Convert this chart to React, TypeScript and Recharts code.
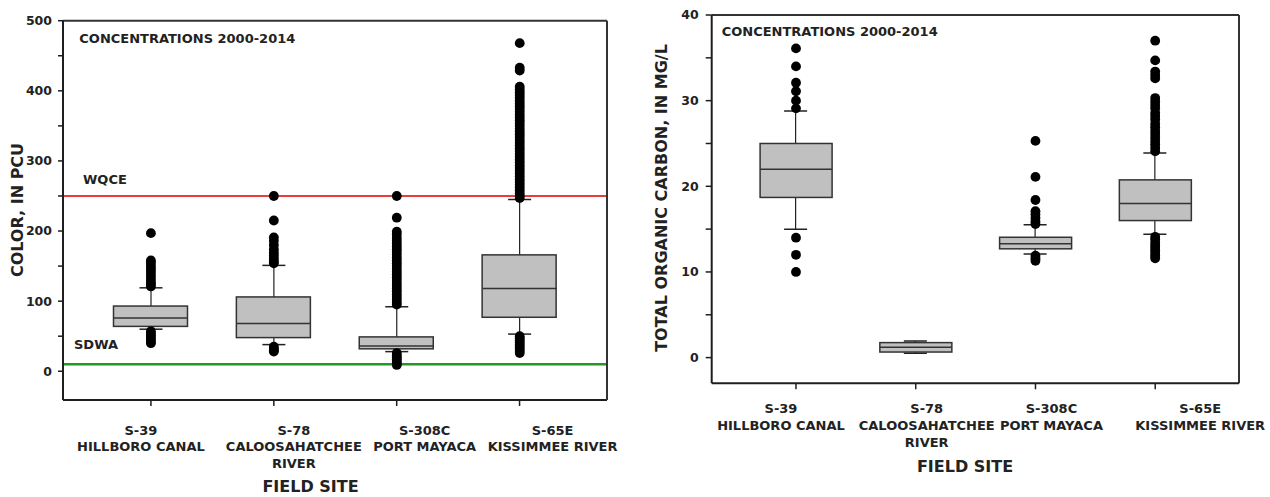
import React from 'react';
import { ComposedChart, Bar, Scatter, XAxis, YAxis, ReferenceLine } from 'recharts';

// ---------- categories ----------
const sites = ['S-39', 'S-78', 'S-308C', 'S-65E'];
const siteLabels = [
  ['S-39', 'HILLBORO CANAL'],
  ['S-78', 'CALOOSAHATCHEE', 'RIVER'],
  ['S-308C', 'PORT MAYACA'],
  ['S-65E', 'KISSIMMEE RIVER'],
];
const sitePositions = [1, 2, 3, 4];

// ---------- COLOR, IN PCU ----------
const colorQ1 = [64, 48, 32, 77];
const colorMedian = [76, 68, 36, 118];
const colorQ3 = [93, 106, 49, 166];
const colorWhiskerLow = [60, 38, 28, 53];
const colorWhiskerHigh = [119, 151, 92, 245];
const colorOutliersS39 = [197, 158, 155, 151, 147, 143, 139, 135, 131, 127, 124, 121, 57, 54, 51, 48, 45, 42, 40];
const colorOutliersS78 = [250, 215, 191, 186, 180, 174, 169, 165, 161, 157, 154, 35, 32, 30, 28];
const colorOutliersS308C = [
  250, 219, 199, 195, 190, 186, 182, 178, 174, 170, 166, 162, 158, 154, 150, 146, 142, 138, 134, 130,
  126, 122, 118, 114, 110, 106, 102, 98, 95, 26, 23, 20, 17, 14, 11, 9,
];
const colorOutliersS65E = [
  468, 433, 429, 406, 402, 398, 394, 390, 386, 382, 378, 374, 370, 366, 362, 358, 354, 350, 346, 342,
  338, 334, 330, 326, 322, 318, 314, 310, 306, 302, 298, 294, 290, 286, 282, 278, 274, 270, 266, 262,
  258, 254, 250, 247, 50, 47, 44, 41, 38, 35, 32, 29, 26,
];
const colorTicks = [0, 50, 100, 150, 200, 250, 300, 350, 400, 450, 500];
const colorDomain = [-41, 500];
const wqceValue = 250;
const sdwaValue = 10;

// ---------- TOTAL ORGANIC CARBON, IN MG/L ----------
const tocQ1 = [18.7, 0.65, 12.7, 16.0];
const tocMedian = [22.0, 1.2, 13.3, 18.0];
const tocQ3 = [25.0, 1.75, 14.05, 20.75];
const tocWhiskerLow = [15.0, 0.5, 12.1, 14.4];
const tocWhiskerHigh = [28.8, 1.95, 15.5, 23.9];
const tocOutliersS39 = [36.1, 34.0, 32.1, 31.1, 30.0, 29.1, 14.0, 12.0, 10.0];
const tocOutliersS78: number[] = [];
const tocOutliersS308C = [25.3, 21.1, 18.4, 17.1, 16.7, 16.3, 15.9, 15.6, 11.9, 11.6, 11.3];
const tocOutliersS65E = [
  37.0, 34.7, 33.4, 33.0, 32.6, 30.3, 29.9, 29.5, 29.1, 28.6, 28.2, 27.8, 27.3, 26.9, 26.5, 26.1, 25.7,
  25.3, 24.9, 24.5, 24.1, 14.1, 13.8, 13.4, 13.1, 12.8, 12.5, 12.2, 11.9, 11.6,
];
const tocTicks = [0, 5, 10, 15, 20, 25, 30, 35, 40];
const tocDomain = [-3, 40];

// ---------- builders ----------
function buildRows(q1: number[], q3: number[], wlo: number[], whi: number[]) {
  return sites.map((s, i) => ({ site: s, box: [q1[i], q3[i]], whisker: [wlo[i], whi[i]] }));
}
function buildMedians(med: number[]) {
  return med.map((v, i) => ({ x: sitePositions[i], y: v }));
}
function buildPoints(lists: number[][]) {
  const pts: { x: number; y: number }[] = [];
  lists.forEach((arr, i) => arr.forEach((v) => pts.push({ x: sitePositions[i], y: v })));
  return pts;
}

const FONT = '"DejaVu Sans", "Liberation Sans", Arial, sans-serif';
const FRAME = '#1e1e1e';

const BoxShape = (props: any) => {
  const { x, y, width, height } = props;
  if (x == null || y == null) return null;
  const top = Math.min(y, y + height);
  const h = Math.abs(height);
  return <rect x={x} y={top} width={width} height={h} fill="#c0c0c0" stroke="#333" strokeWidth={1.5} />;
};

const WhiskerShape = (props: any) => {
  const { x, y, width, height } = props;
  if (x == null || y == null) return null;
  const top = Math.min(y, y + height);
  const bottom = Math.max(y, y + height);
  const cx = x + width / 2;
  return (
    <g>
      <line x1={cx} x2={cx} y1={top} y2={bottom} stroke="#222" strokeWidth={1.2} />
      <line x1={x} x2={x + width} y1={top} y2={top} stroke="#222" strokeWidth={1.5} />
      <line x1={x} x2={x + width} y1={bottom} y2={bottom} stroke="#222" strokeWidth={1.5} />
    </g>
  );
};

const makeMedianShape = (half: number) => (props: any) => {
  const { cx, cy } = props;
  if (cx == null || cy == null) return null;
  return <line x1={cx - half} x2={cx + half} y1={cy} y2={cy} stroke="#333" strokeWidth={1.5} />;
};

const OutlierShape = (props: any) => {
  const { cx, cy } = props;
  if (cx == null || cy == null) return null;
  return <circle cx={cx} cy={cy} r={4.9} fill="#000" />;
};

const makeCategoryTick = (dxs: number[], firstDy: number, lineGap: number) => (props: any) => {
  const { x, y, payload } = props;
  const idx = sites.indexOf(payload.value);
  const lines = siteLabels[idx] || [String(payload.value)];
  const dx = dxs[idx] || 0;
  return (
    <text
      x={x + dx}
      y={y + firstDy}
      textAnchor="middle"
      fontFamily={FONT}
      fontWeight="bold"
      fontSize={13}
      fill="#222"
    >
      {lines.map((l, i) => (
        <tspan key={i} x={x + dx} dy={i === 0 ? 0 : lineGap}>
          {l}
        </tspan>
      ))}
    </text>
  );
};

const makeRefLabel = (text: string, dx: number, dy: number) => (props: any) => {
  const vb = props.viewBox || {};
  return (
    <text x={(vb.x || 0) + dx} y={(vb.y || 0) + dy} fontFamily={FONT} fontWeight="bold" fontSize={13} fill="#222">
      {text}
    </text>
  );
};

type PanelProps = {
  width: number;
  height: number;
  margin: { top: number; right: number; bottom: number; left: number };
  rows: any[];
  medians: any[];
  points: any[];
  yDomain: number[];
  yTicks: number[];
  labelStep: number;
  catPadding: { left: number; right: number };
  numDomain: number[];
  boxSize: number;
  tickSize: number;
  tickMargin: number;
  labelDx: number[];
  labelFirstDy: number;
  labelGap: number;
  refLines?: React.ReactNode;
};

function Panel(p: PanelProps) {
  return (
    <ComposedChart width={p.width} height={p.height} margin={p.margin} data={p.rows}>
      <XAxis
        xAxisId="cat"
        dataKey="site"
        type="category"
        padding={p.catPadding}
        height={70}
        interval={0}
        tickSize={6}
        tickMargin={0}
        axisLine={{ stroke: FRAME, strokeWidth: 2 }}
        tickLine={{ stroke: FRAME, strokeWidth: 1.5 }}
        tick={makeCategoryTick(p.labelDx, p.labelFirstDy, p.labelGap)}
      />
      <XAxis
        xAxisId="top"
        dataKey="site"
        type="category"
        orientation="top"
        padding={p.catPadding}
        height={1}
        tick={false}
        tickLine={false}
        axisLine={{ stroke: '#333', strokeWidth: 2 }}
      />
      <XAxis xAxisId="num" type="number" dataKey="x" domain={p.numDomain} allowDataOverflow hide />
      <YAxis
        yAxisId="l"
        type="number"
        domain={p.yDomain}
        ticks={p.yTicks}
        interval={0}
        allowDataOverflow
        width={45}
        tickSize={p.tickSize}
        tickMargin={p.tickMargin}
        axisLine={{ stroke: FRAME, strokeWidth: 2 }}
        tickLine={{ stroke: FRAME, strokeWidth: 1.5 }}
        tickFormatter={(v: number) => (v % p.labelStep === 0 ? String(v) : '')}
        tick={{ fontSize: 12.5, fontWeight: 'bold', fill: '#222', fontFamily: FONT }}
      />
      <YAxis
        yAxisId="r"
        type="number"
        orientation="right"
        domain={p.yDomain}
        allowDataOverflow
        width={1}
        tick={false}
        tickLine={false}
        axisLine={{ stroke: '#333', strokeWidth: 2 }}
      />
      {p.refLines}
      <Bar
        xAxisId="top"
        yAxisId="l"
        dataKey="whisker"
        barSize={23}
        shape={WhiskerShape}
        isAnimationActive={false}
      />
      <Bar xAxisId="cat" yAxisId="l" dataKey="box" barSize={p.boxSize} shape={BoxShape} isAnimationActive={false} />
      <Scatter
        xAxisId="num"
        yAxisId="l"
        data={p.medians}
        dataKey="y"
        shape={makeMedianShape(p.boxSize / 2)}
        isAnimationActive={false}
      />
      <Scatter xAxisId="num" yAxisId="l" data={p.points} dataKey="y" shape={OutlierShape} isAnimationActive={false} />
    </ComposedChart>
  );
}

export default function App() {
  const colorRows = buildRows(colorQ1, colorQ3, colorWhiskerLow, colorWhiskerHigh);
  const colorMeds = buildMedians(colorMedian);
  const colorPts = buildPoints([colorOutliersS39, colorOutliersS78, colorOutliersS308C, colorOutliersS65E]);
  const tocRows = buildRows(tocQ1, tocQ3, tocWhiskerLow, tocWhiskerHigh);
  const tocMeds = buildMedians(tocMedian);
  const tocPts = buildPoints([tocOutliersS39, tocOutliersS78, tocOutliersS308C, tocOutliersS65E]);

  const textStyle = { fontFamily: FONT, fontWeight: 'bold' as const, fill: '#222' };

  return (
    <div style={{ position: 'absolute', left: 0, top: 0, width: 1270, height: 497, background: '#fff', overflow: 'hidden' }}>
      <div style={{ position: 'absolute', left: 0, top: 0 }}>
        <Panel
          width={640}
          height={497}
          margin={{ top: 19.7, right: 32, bottom: 27, left: 18 }}
          rows={colorRows}
          medians={colorMeds}
          points={colorPts}
          yDomain={colorDomain}
          yTicks={colorTicks}
          labelStep={100}
          catPadding={{ left: 26.5, right: 26 }}
          numDomain={[0.285, 4.71]}
          boxSize={74}
          tickSize={5}
          tickMargin={6}
          labelDx={[-10, 20, 28, 33]}
          labelFirstDy={28.7}
          labelGap={16.7}
          refLines={[
            <ReferenceLine
              key="wqce"
              xAxisId="cat"
              yAxisId="l"
              y={wqceValue}
              stroke="#ee3a3a"
              strokeWidth={2.2}
              label={makeRefLabel('WQCE', 20, -12)}
            />,
            <ReferenceLine
              key="sdwa"
              xAxisId="cat"
              yAxisId="l"
              y={sdwaValue}
              stroke="#229922"
              strokeWidth={2.5}
              label={makeRefLabel('SDWA', 11, -15.3)}
            />,
          ]}
        />
      </div>
      <div style={{ position: 'absolute', left: 640, top: 0 }}>
        <Panel
          width={630}
          height={497}
          margin={{ top: 14, right: 30, bottom: 43.7, left: 26.7 }}
          rows={tocRows}
          medians={tocMeds}
          points={tocPts}
          yDomain={tocDomain}
          yTicks={tocTicks}
          labelStep={10}
          catPadding={{ left: 24.4, right: 23.9 }}
          numDomain={[0.296, 4.7]}
          boxSize={72}
          tickSize={6}
          tickMargin={7}
          labelDx={[-15, 11, 16, 45]}
          labelFirstDy={23.7}
          labelGap={17}
        />
      </div>
      <svg
        width={1270}
        height={497}
        style={{ position: 'absolute', left: 0, top: 0, pointerEvents: 'none' }}
      >
        <text x={79.3} y={42.5} fontSize={13} {...textStyle}>
          CONCENTRATIONS 2000-2014
        </text>
        <text x={721.7} y={35.5} fontSize={13} {...textStyle}>
          CONCENTRATIONS 2000-2014
        </text>
        <text transform="translate(22.5,210) rotate(-90)" textAnchor="middle" fontSize={16} {...textStyle}>
          COLOR, IN PCU
        </text>
        <text transform="translate(667,198) rotate(-90)" textAnchor="middle" fontSize={16} {...textStyle}>
          TOTAL ORGANIC CARBON, IN MG/L
        </text>
        <text x={310.5} y={492} textAnchor="middle" fontSize={16} {...textStyle}>
          FIELD SITE
        </text>
        <text x={965} y={471.5} textAnchor="middle" fontSize={16} {...textStyle}>
          FIELD SITE
        </text>
      </svg>
    </div>
  );
}
